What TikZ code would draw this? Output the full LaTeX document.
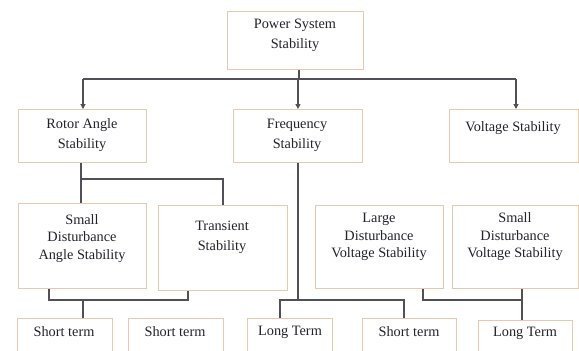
\documentclass[tikz,border=0pt]{standalone}
\usepackage{fontspec}
\setmainfont{Liberation Serif}
\usetikzlibrary{arrows.meta}
\definecolor{boxline}{RGB}{236,200,170}
\definecolor{conn}{RGB}{80,80,88}
\definecolor{txtc}{RGB}{35,35,45}
\begin{document}
\begin{tikzpicture}[x=1pt,y=-1pt,
  box/.style={draw=boxline, line width=0.9pt, fill=white, inner sep=0pt, anchor=north west},
  lbl/.style={text=txtc, align=center, inner sep=0pt, font=\fontsize{14.3}{20}\selectfont},
  lblthree/.style={lbl, font=\fontsize{14.3}{17.5}\selectfont},
  conn/.style={draw=conn, line width=1.1pt},
  arr/.style={conn, -{Triangle[length=5pt,width=5pt]}}]
\useasboundingbox (0,0) rectangle (579,351);
% boxes
\node[box, minimum width=136pt, minimum height=58pt] (pss) at (227,11) {};
\node[box, minimum width=128pt, minimum height=53pt] (rot) at (18,109) {};
\node[box, minimum width=129pt, minimum height=53pt] (fre) at (233,109) {};
\node[box, minimum width=129pt, minimum height=53pt] (vol) at (449,109) {};
\node[box, minimum width=128pt, minimum height=85pt] (sda) at (18,203) {};
\node[box, minimum width=129pt, minimum height=85pt] (tra) at (158,205) {};
\node[box, minimum width=128pt, minimum height=83pt] (ldv) at (315,205) {};
\node[box, minimum width=126pt, minimum height=83pt] (sdv) at (452,205) {};
\node[box, minimum width=95pt, minimum height=40pt] (st1) at (17,318) {};
\node[box, minimum width=95pt, minimum height=40pt] (st2) at (128,318) {};
\node[box, minimum width=85pt, minimum height=40pt] (lt1) at (247,318) {};
\node[box, minimum width=94pt, minimum height=40pt] (st3) at (362,318) {};
\node[box, minimum width=94pt, minimum height=40pt] (lt2) at (478,320) {};
% labels
\node[lbl] (pss-t) at (295,35) {Power System\\Stability};
\node[lbl] (rot-t) at (82,135) {Rotor Angle\\Stability};
\node[lbl] (fre-t) at (297,135) {Frequency\\Stability};
\node[lbl] (vol-t) at (513,128) {Voltage Stability};
\node[lblthree] (sda-t) at (82,238.5) {Small\\Disturbance\\Angle Stability};
\node[lbl] (tra-t) at (222,237.5) {Transient\\Stability};
\node[lblthree] (ldv-t) at (379,237) {Large\\Disturbance\\Voltage Stability};
\node[lblthree] (sdv-t) at (515,237) {Small\\Disturbance\\Voltage Stability};
\node[lbl] (st1-t) at (64,332) {Short term};
\node[lbl] (st2-t) at (175,332) {Short term};
\node[lbl] (lt1-t) at (290,332) {Long Term};
\node[lbl] (st3-t) at (409,332) {Short term};
\node[lbl] (lt2-t) at (525,333) {Long Term};
% junction coordinates
\coordinate (j0) at (299,79);
\coordinate (j1) at (81,179);
\coordinate (j2) at (83,300);
\coordinate (j3) at (298,300);
\coordinate (j4) at (522,300);
\coordinate (ja) at (83,79);
\coordinate (jb) at (516,79);
\coordinate (jc) at (223,179);
\coordinate (jd) at (49,300);
\coordinate (je) at (188,300);
\coordinate (jf) at (280,300);
\coordinate (jg) at (404,300);
\coordinate (jh) at (423,300);
% top level
\draw[conn] (pss.south -| j0) -- (j0);
\draw[conn] (ja) -- (jb);
\draw[arr] (ja) -- (rot.north -| ja);
\draw[arr] (j0 -| fre.north) -- (fre.north);
\draw[arr] (jb) -- (vol.north -| jb);
% rotor angle branch
\draw[conn] (rot.south -| j1) -- (sda.north -| j1);
\draw[conn] (j1) -- (jc) -- (tra.north -| jc);
% small / transient bracket
\draw[conn] (sda.south -| jd) -- (jd) -- (je) -- (tra.south -| je);
\draw[conn] (j2) -- (st1.north -| j2);
% frequency branch
\draw[conn] (fre.south -| j3) -- (j3);
\draw[conn] (lt1.north -| jf) -- (jf) -- (jg) -- (st3.north -| jg);
% voltage bracket
\draw[conn] (ldv.south -| jh) -- (jh) -- (j4);
\draw[conn] (sdv.south -| j4) -- (lt2.north -| j4);
\end{tikzpicture}
\end{document}
